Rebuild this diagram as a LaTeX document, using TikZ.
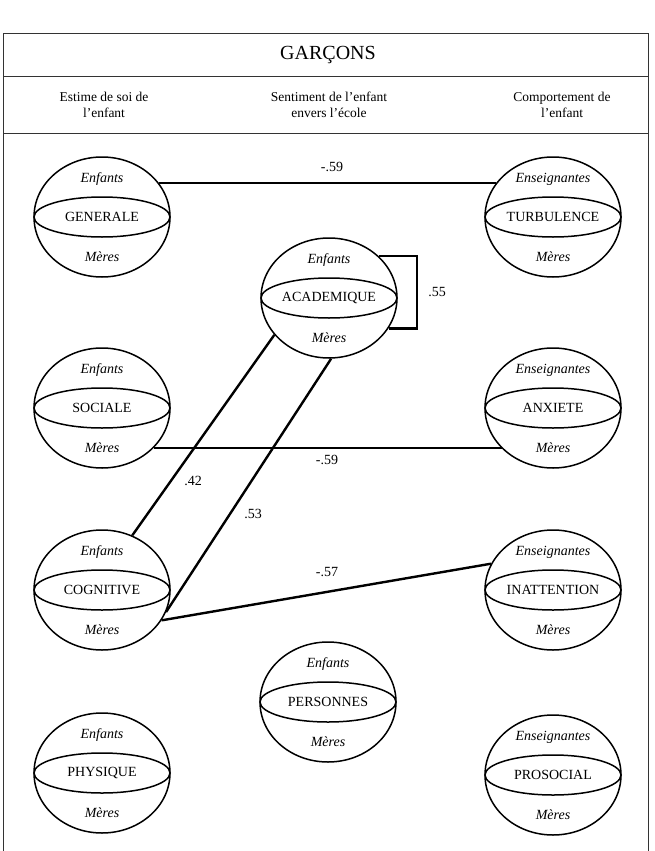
\documentclass[tikz,border=0pt]{standalone}
\usepackage{fontspec}
\setmainfont{Liberation Serif}
\usetikzlibrary{shapes.geometric}

% sphere: name, position, middle label, upper label, lower label
\newcommand{\sphere}[5]{%
  \node[sphere] (#1) at (#2) {#3};
  \draw[rim] (#1.center) ellipse [x radius=68pt, y radius=20pt];
  \node[sublabel] (#1-top) at ([yshift=38pt]#1.center) {#4};
  \node[sublabel] (#1-bot) at ([yshift=-40pt]#1.center) {#5};
}

\begin{document}
\begin{tikzpicture}[x=1pt,y=-1pt,
  rim/.style={line width=1.5pt},
  sphere/.style={draw,ellipse,rim,minimum width=136pt,minimum height=120pt,
    inner sep=0pt,font=\fontsize{14}{17}\selectfont},
  sublabel/.style={font=\fontsize{14}{17}\selectfont\itshape,inner sep=1pt},
  head/.style={align=center,font=\fontsize{13.5}{16}\selectfont},
  coef/.style={font=\fontsize{14}{17}\selectfont,inner sep=1pt},
  link/.style={line width=2.4pt},
  frame/.style={black!80,line width=0.8pt}]
\useasboundingbox (0,0) rectangle (655,851);

% frame and headings
\draw[frame] (3,851) -- (3,33) -- (648,33) -- (648,851);
\draw[frame] (3,76) -- (648,76);
\draw[frame] (3,133) -- (648,133);
\node[font=\fontsize{20}{24}\selectfont] (title) at (328,55) {GARÇONS};
\node[head] (hself) at (104,105) {Estime de soi de\\l’enfant};
\node[head] (hschool) at (329,105) {Sentiment de l’enfant\\envers l’école};
\node[head] (hbehav) at (562,105) {Comportement de\\l’enfant};

% left column
\sphere{generale}{102,217}{GENERALE}{Enfants}{Mères}
\sphere{sociale}{102,408}{SOCIALE}{Enfants}{Mères}
\sphere{cognitive}{102,590}{COGNITIVE}{Enfants}{Mères}
\sphere{physique}{102,773}{PHYSIQUE}{Enfants}{Mères}

% middle column
\sphere{academique}{329,298}{ACADEMIQUE}{Enfants}{Mères}
\sphere{personnes}{328,702}{PERSONNES}{Enfants}{Mères}

% right column
\sphere{turbulence}{553,217}{TURBULENCE}{Enseignantes}{Mères}
\sphere{anxiete}{553,408}{ANXIETE}{Enseignantes}{Mères}
\sphere{inattention}{553,590}{INATTENTION}{Enseignantes}{Mères}
\sphere{prosocial}{553,775}{PROSOCIAL}{Enseignantes}{Mères}

% correlations
\draw[link] (generale.31) -- (turbulence.149);
\draw[link] (sociale.-38) -- (anxiete.-142);
\draw[link] (cognitive.61) -- (academique.-146);
\draw[link] (cognitive.-19) -- (academique.-88);
\draw[link] (cognitive.-27) -- (inattention.157);
\coordinate (loop) at (417,298);
\draw[link] (academique.40) -- (academique.40 -| loop)
  -- (academique.-27 -| loop) -- (academique.-27);

\node[coef] (c1) at (332,167) {-.59};
\node[coef] (c2) at (327,460) {-.59};
\node[coef] (c3) at (193,481) {.42};
\node[coef] (c4) at (253,514) {.53};
\node[coef] (c5) at (327,572) {-.57};
\node[coef] (c6) at (437,292) {.55};
\end{tikzpicture}
\end{document}
